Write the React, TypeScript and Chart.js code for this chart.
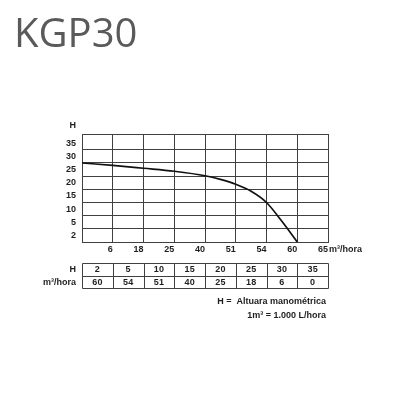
import React, { useEffect, useRef } from "react";
import { Chart, registerables } from "chart.js";

Chart.register(...registerables);

const TITLE = "KGP30";
const X_TICK_LABELS = ["", "6", "18", "25", "40", "51", "54", "60", "65"];
const X_UNIT = "m³/hora";
const Y_TICK_VALUES = [0, 1, 2, 3, 4, 5, 6, 7, 8.2];
const Y_TICK_LABELS = ["2", "5", "10", "15", "20", "25", "30", "35", ""];
const Y_TITLE = "H";
const CURVE_X = [0, 1, 2, 3, 4, 4.5, 5, 5.5, 6, 6.5, 7];
const CURVE_Y = [6.0, 5.82, 5.6, 5.37, 5.03, 4.75, 4.38, 3.85, 3.0, 1.57, 0];
const TABLE_ROW_LABELS = ["H", "m³/hora"];
const TABLE_H = ["2", "5", "10", "15", "20", "25", "30", "35"];
const TABLE_Q = ["60", "54", "51", "40", "25", "18", "6", "0"];
const NOTES = ["H =  Altuara manométrica", "1m³ = 1.000 L/hora"];

const GRID = "#404040";
const TEXT = "#1e1e1e";
const FONT = '"Liberation Sans", Arial, sans-serif';

const annotPlugin = {
  id: "annot",
  afterDraw(chart: any) {
    const ctx = chart.ctx as CanvasRenderingContext2D;
    const xs = chart.scales.x;
    const area = chart.chartArea;
    ctx.save();
    // title
    ctx.fillStyle = "#5a5a5a";
    ctx.font = '400 40px "Open Sans", sans-serif';
    ctx.textAlign = "left";
    ctx.textBaseline = "alphabetic";
    ctx.fillText(TITLE, 14, 47);

    ctx.fillStyle = TEXT;
    ctx.font = `bold 9px ${FONT}`;
    ctx.textBaseline = "middle";
    ctx.textAlign = "right";
    ctx.fillText(Y_TITLE, area.left - 6, area.top - 8.5);
    ctx.textAlign = "left";
    ctx.fillText(X_UNIT, area.right + 1, area.bottom + 2 + 5.4);

    // table
    const top = area.bottom + 20.7;
    const rowH = 12.8;
    const n = TABLE_H.length;
    const px = (i: number) => Math.round(xs.getPixelForValue(i)) + 0.5;
    ctx.strokeStyle = GRID;
    ctx.lineWidth = 1;
    ctx.beginPath();
    for (let r = 0; r <= 2; r++) {
      const y = Math.round(top + r * rowH) + 0.5;
      ctx.moveTo(px(0), y);
      ctx.lineTo(px(n), y);
    }
    for (let i = 0; i <= n; i++) {
      ctx.moveTo(px(i), Math.round(top) + 0.5);
      ctx.lineTo(px(i), Math.round(top + 2 * rowH) + 0.5);
    }
    ctx.stroke();
    ctx.fillStyle = TEXT;
    const rows = [TABLE_H, TABLE_Q];
    rows.forEach((row, r) => {
      const y = top + r * rowH + rowH / 2 + 0.5;
      ctx.textAlign = "right";
      ctx.fillText(TABLE_ROW_LABELS[r], area.left - 6, y);
      ctx.textAlign = "center";
      row.forEach((v, i) => {
        const cx = (xs.getPixelForValue(i) + xs.getPixelForValue(i + 1)) / 2;
        ctx.fillText(v, cx, y);
      });
    });
    // notes
    const bottom = top + 2 * rowH;
    ctx.textAlign = "right";
    ctx.fillText(NOTES[0], 326, bottom + 13.3);
    ctx.fillText(NOTES[1], 326, bottom + 26.8);
    ctx.restore();
  },
};

export default function App() {
  const ref = useRef<HTMLCanvasElement | null>(null);
  useEffect(() => {
    if (!ref.current) return;
    const chart = new Chart(ref.current, {
      type: "line",
      data: {
        datasets: [
          {
            data: CURVE_X.map((x, i) => ({ x, y: CURVE_Y[i] })),
            borderColor: "#111",
            borderWidth: 1.7,
            pointRadius: 0,
            cubicInterpolationMode: "monotone",
            fill: false,
          },
        ],
      },
      options: {
        responsive: false,
        animation: false,
        layout: { padding: { left: 52, right: 72, top: 134, bottom: 138 } },
        plugins: { legend: { display: false }, tooltip: { enabled: false } },
        scales: {
          x: {
            type: "linear",
            min: 0,
            max: 8,
            afterBuildTicks: (s: any) => {
              s.ticks = X_TICK_LABELS.map((_, i) => ({ value: i }));
            },
            afterFit: (s: any) => {
              s.height = 20;
            },
            ticks: {
              autoSkip: false,
              maxRotation: 0,
              minRotation: 0,
              align: "end",
              padding: 2,
              color: TEXT,
              font: { family: FONT, size: 9, weight: "bold" },
              callback: (_v: any, i: number) => X_TICK_LABELS[i],
            },
            grid: { color: GRID, lineWidth: 1, drawTicks: false },
            border: { display: true, color: GRID, width: 1 },
          },
          y: {
            type: "linear",
            min: 0,
            max: 8.2,
            afterBuildTicks: (s: any) => {
              s.ticks = Y_TICK_VALUES.map((v) => ({ value: v }));
            },
            afterFit: (s: any) => {
              s.width = 30;
            },
            ticks: {
              autoSkip: false,
              padding: 6,
              labelOffset: -6.6,
              color: TEXT,
              font: { family: FONT, size: 9, weight: "bold" },
              callback: (_v: any, i: number) => Y_TICK_LABELS[i],
            },
            grid: { color: GRID, lineWidth: 1, drawTicks: false },
            border: { display: true, color: GRID, width: 1 },
          },
        },
      },
      plugins: [annotPlugin],
    } as any);
    return () => chart.destroy();
  }, []);
  return (
    <div style={{ position: "absolute", left: 0, top: 0, width: 400, height: 400, background: "#fff" }}>
      <canvas ref={ref} width={400} height={400} style={{ display: "block" }} />
    </div>
  );
}
